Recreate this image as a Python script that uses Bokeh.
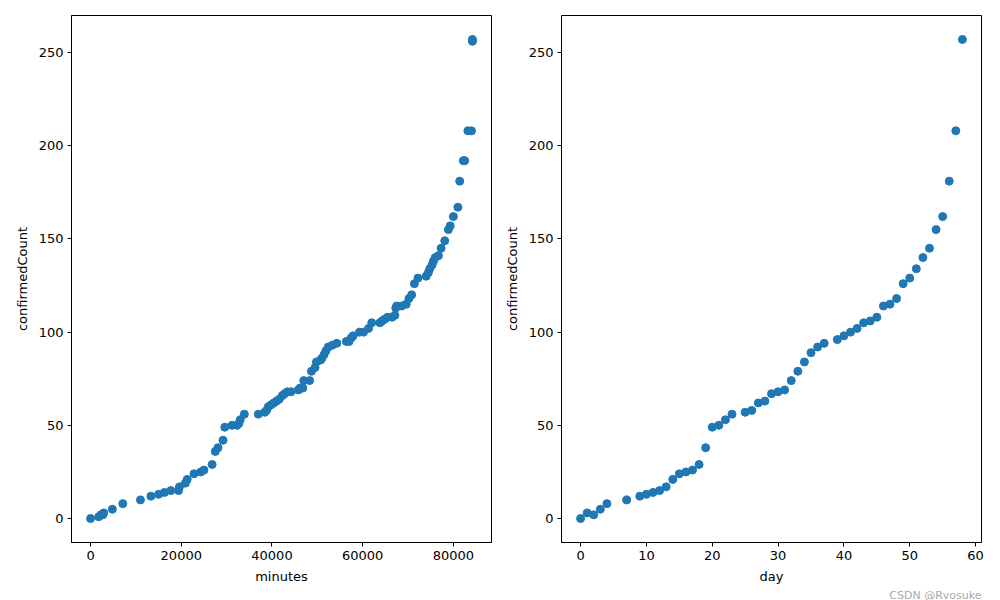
from bokeh.plotting import figure
from bokeh.layouts import row
from bokeh.models import Range1d, FixedTicker, Title
from bokeh.embed import file_html
from bokeh.resources import INLINE

# Left panel: cumulative confirmed count vs. minutes since first record
minutes = [0, 1800, 2300, 2700, 2900, 4800, 7100, 11000, 13300, 15000, 16300, 17700,
           19400, 19600, 20900, 21300, 22800, 24300, 25000, 26800, 27500, 28100, 29200,
           29600, 31200, 32300, 32700, 33000, 33900, 37000, 38400, 38800, 39200, 39800,
           40400, 41000, 41600, 42300, 42800, 43400, 44200, 45800, 46200, 46800, 47000,
           48300, 48700, 49500, 49800, 50700, 51000, 51500, 51900, 52400, 53300, 54300,
           56400, 57000, 57500, 57900, 59300, 60200, 61300, 62000, 63800, 64300, 64900,
           65500, 66500, 67100, 67300, 67500, 68600, 69600, 70200, 70800, 71400, 72200,
           74000, 74500, 74800, 75300, 75600, 76000, 76700, 77300, 78100, 78900, 79300,
           80000, 81000, 81400, 82200, 82500, 83200, 84000, 84200, 84200]
minutes_count = [0, 1, 2, 2, 3, 5, 8, 10, 12, 13, 14, 15,
                 15, 17, 19, 21, 24, 25, 26, 29, 36, 38, 42,
                 49, 50, 50, 51, 53, 56, 56, 57, 58, 60, 61,
                 62, 63, 64, 66, 67, 68, 68, 69, 70, 70, 74,
                 74, 79, 81, 84, 85, 86, 88, 90, 92, 93, 94,
                 95, 95, 97, 98, 100, 100, 102, 105, 105, 106, 107,
                 108, 108, 109, 113, 114, 114, 115, 118, 120, 126, 129,
                 130, 132, 134, 136, 138, 140, 141, 145, 149, 155, 157,
                 162, 167, 181, 192, 192, 208, 208, 256, 257]

# Right panel: confirmed count per day
days = [0, 1, 2, 3, 4, 7, 9, 10, 11, 12, 13, 14, 15, 16, 17, 18, 19, 20, 21, 22, 23,
        25, 26, 27, 28, 29, 30, 31, 32, 33, 34, 35, 36, 37, 39, 40, 41, 42, 43, 44, 45,
        46, 47, 48, 49, 50, 51, 52, 53, 54, 55, 56, 57, 58]
day_count = [0, 3, 2, 5, 8, 10, 12, 13, 14, 15, 17, 21, 24, 25, 26, 29, 38, 49, 50, 53, 56,
             57, 58, 62, 63, 67, 68, 69, 74, 79, 84, 89, 92, 94, 96, 98, 100, 102, 105, 106, 108,
             114, 115, 118, 126, 129, 134, 140, 145, 155, 162, 181, 208, 257]

x_ticks_left = [0, 20000, 40000, 60000, 80000]
x_ticks_right = [0, 10, 20, 30, 40, 50, 60]
y_ticks = [0, 50, 100, 150, 200, 250]

COLOR = "#1f77b4"
FONT = "DejaVu Sans"


def make_fig(x, y, xlabel, xticks, bl, br):
    xmin, xmax = min(x), max(x)
    ymin, ymax = min(y), max(y)
    dx = (xmax - xmin) * 0.05
    dy = (ymax - ymin) * 0.05
    p = figure(frame_width=420, frame_height=527, output_backend="svg",
               toolbar_location=None,
               x_range=Range1d(xmin - dx, xmax + dx),
               y_range=Range1d(ymin - dy, ymax + dy),
               min_border_left=bl, min_border_right=br,
               min_border_top=15, min_border_bottom=56)
    p.scatter(x, y, size=8, color=COLOR, line_color=COLOR)
    p.grid.visible = False
    p.outline_line_color = "black"
    p.outline_line_width = 1
    p.xaxis.ticker = FixedTicker(ticks=xticks)
    p.yaxis.ticker = FixedTicker(ticks=y_ticks)
    p.xaxis.axis_label = xlabel
    p.yaxis.axis_label = "confirmedCount"
    for ax in (p.xaxis[0], p.yaxis[0]):
        ax.axis_line_color = "black"
        ax.major_tick_line_color = "black"
        ax.major_tick_out = 4
        ax.major_tick_in = 0
        ax.minor_tick_line_color = None
        ax.major_label_text_font = FONT
        ax.major_label_text_font_size = "13px"
        ax.major_label_text_color = "black"
        ax.axis_label_text_font = FONT
        ax.axis_label_text_font_size = "13px"
        ax.axis_label_text_font_style = "normal"
        ax.axis_label_text_color = "black"
        ax.major_label_standoff = 4
        ax.axis_label_standoff = 6
    p.xaxis.formatter.use_scientific = False
    p.yaxis.formatter.use_scientific = False
    return p


p1 = make_fig(minutes, minutes_count, "minutes", x_ticks_left, 71, 9)
p2 = make_fig(days, day_count, "day", x_ticks_right, 61, 11)

wm = Title(text="CSDN @Rvosuke", align="right", text_font=FONT,
           text_font_size="11px", text_color="#a8a8a8", text_font_style="normal",
           standoff=0, offset=0)
p2.add_layout(wm, "below")

layout = row(p1, p2)
open("out.html", "w").write(file_html(layout, INLINE))
